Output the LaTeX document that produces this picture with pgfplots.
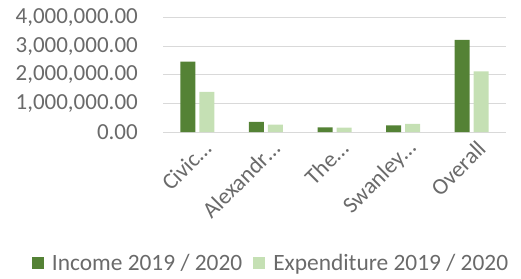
\documentclass[border=0pt]{standalone}
\usepackage{pgfplots}
\pgfplotsset{compat=1.18}
\usepackage{fontspec}
\setmainfont{Carlito}
\definecolor{inc}{HTML}{548235}
\definecolor{exp}{HTML}{C5E0B4}
\definecolor{txt}{HTML}{6A6A6A}
\definecolor{grd}{HTML}{D9D9D9}
\begin{document}
\begin{tikzpicture}
\useasboundingbox (0,0) rectangle (521pt,278pt);
\begin{axis}[
  at={(163pt,146pt)}, anchor=south west,
  scale only axis, width=343pt, height=114.3pt,
  ybar, bar width=15pt,
  xmin=-0.5, xmax=4.5, ymin=0, ymax=4000000,
  xtick={0,1,2,3,4},
  xticklabels={Civic…,Alexandr…,The…,Swanley…,Overall\hspace{12pt}},
  ytick={0,1000000,2000000,3000000,4000000},
  scaled y ticks=false,
  yticklabel style={/pgf/number format/fixed, /pgf/number format/fixed zerofill,
    /pgf/number format/precision=2, /pgf/number format/1000 sep={,},
    /pgf/number format/assume math mode=true,
    inner sep=0pt, xshift=-25pt},
  font=\fontsize{23}{27}\selectfont,
  tick label style={text=txt},
  xticklabel style={rotate=45, anchor=east, inner sep=0pt, xshift=-2pt, yshift=-16pt},
  major tick length=0pt,
  ymajorgrids, grid style={grd, line width=1pt},
  axis x line*=bottom, axis y line*=left,
  y axis line style={draw=none},
  x axis line style={grd, line width=1pt, -},
  legend columns=2,
  legend style={at={(0.315,-1.146)}, anchor=center, draw=none, fill=none,
    text=txt, font=\fontsize{23.4}{27}\selectfont,
    /tikz/every odd column/.append style={column sep=6pt},
    /tikz/every even column/.append style={column sep=9pt}},
  legend image code/.code={\fill[#1] (0pt,-6pt) rectangle (12pt,6pt);},
]
\addplot[fill=inc, draw=none, bar shift=-9.5pt] coordinates {(0,2460000) (1,350000) (2,160000) (3,230000) (4,3220000)};
\addplot[fill=exp, draw=none, bar shift=9.5pt] coordinates {(0,1400000) (1,255000) (2,150000) (3,280000) (4,2120000)};
\legend{Income 2019 / 2020, Expenditure 2019 / 2020}
\end{axis}
\end{tikzpicture}
\end{document}
